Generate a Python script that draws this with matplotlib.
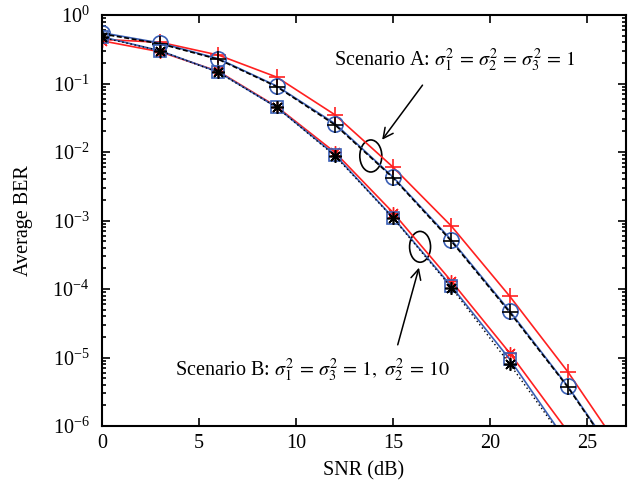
import numpy as np
import matplotlib
matplotlib.use("Agg")
import matplotlib.pyplot as plt
from matplotlib.patches import Ellipse

plt.rcParams['font.family'] = ['Liberation Serif', 'DejaVu Serif']
plt.rcParams['mathtext.fontset'] = 'stix'

snr = [0, 3, 6, 9, 12, 15, 18, 21, 24, 27]

# scenario A: equal variances
ber_a_red = [0.44, 0.40, 0.26, 0.124, 0.035, 0.0060, 8.3e-4, 7.9e-5, 6.2e-6, 3.5e-7]
ber_a_blue = [0.55, 0.39, 0.23, 0.092, 0.026, 0.0043, 5.2e-4, 4.8e-5, 3.8e-6, 2.2e-7]
ber_a_black = [0.53, 0.38, 0.225, 0.090, 0.025, 0.0042, 5.0e-4, 4.6e-5, 3.7e-6, 2.1e-7]

# scenario B: strong middle link
snr_b = [0, 3, 6, 9, 12, 15, 18, 21, 24]
ber_b_red = [0.42, 0.29, 0.15, 0.046, 0.0099, 0.0013, 1.3e-4, 1.17e-5, 8.3e-7]
ber_b_blue = [0.48, 0.30, 0.147, 0.045, 0.0091, 0.0011, 1.1e-4, 9.5e-6, 5.6e-7]
ber_b_black = [0.47, 0.30, 0.145, 0.045, 0.0088, 0.00108, 1.05e-4, 8.1e-6, 5.3e-7]

red = '#ff2020'
blue = '#3a5fb5'
aster = (8, 2, 0)

fig = plt.figure(figsize=(6.36, 4.92), dpi=100)
ax = fig.add_axes([102/636, 66/492, 524/636, 411/492])

ax.plot(snr, ber_a_red, color=red, lw=1.2, marker='+', ms=11, mew=1.2)
ax.plot(snr, ber_a_blue, color=blue, lw=1.2, marker='o', ms=11, mfc='none', mew=1.2)
ax.plot(snr, ber_a_black, color='k', lw=1.2, ls=(0, (3, 1.5)), marker='+', ms=11, mew=1.2)

ax.plot(snr_b, ber_b_red, color=red, lw=1.2, marker=aster, ms=9, mew=1.0)
ax.plot(snr_b, ber_b_blue, color=blue, lw=1.2, marker='s', ms=8, mfc='none', mew=1.2)
ax.plot(snr_b, ber_b_black, color='k', lw=1.0, ls=(0, (1, 2)), marker=aster, ms=9, mew=1.2)

ax.set_yscale('log')
ax.set_xlim(0, 27)
ax.set_ylim(1e-6, 1)
ax.set_xticks([0, 5, 10, 15, 20, 25])
ax.set_yticks([1e0, 1e-1, 1e-2, 1e-3, 1e-4, 1e-5, 1e-6])
ax.tick_params(which='both', direction='in', top=True, right=True, labelsize=14.5, width=1.2)
ax.tick_params(which='major', length=6)
ax.tick_params(which='minor', length=3)
ax.tick_params(axis='y', which='major', pad=9)
ax.tick_params(axis='x', which='major', pad=6)
for s in ax.spines.values():
    s.set_linewidth(1.5)

ax.set_xlabel('SNR (dB)', fontsize=14.5, labelpad=6)
ax.set_ylabel('Average BER', fontsize=14.5, labelpad=14)

# ellipses grouping the curves
ax.add_patch(Ellipse((0.513, 0.657), 0.042, 0.078, transform=ax.transAxes,
                     fill=False, ec='k', lw=1.2))
ax.add_patch(Ellipse((0.607, 0.436), 0.040, 0.075, transform=ax.transAxes,
                     fill=False, ec='k', lw=1.2))

ax.annotate('', xy=(14.35, 0.014), xytext=(16.6, 0.102),
            arrowprops=dict(arrowstyle='->', color='k', lw=1.1, mutation_scale=18))
ax.annotate('', xy=(16.37, 2.24e-4), xytext=(15.2, 1.4e-5),
            arrowprops=dict(arrowstyle='->', color='k', lw=1.1, mutation_scale=18))

ax.text(18.2, 0.22, r'Scenario A: $\sigma_1^2\, =\, \sigma_2^2\, =\, \sigma_3^2\, =\, 1$',
        ha='center', va='center', fontsize=14.5)
ax.text(10.85, 6.6e-6, r'Scenario B: $\sigma_1^2\, =\, \sigma_3^2\, =\, 1,\ \sigma_2^2\, =\, 10$',
        ha='center', va='center', fontsize=14.5)

fig.savefig('out.png', dpi=100)
